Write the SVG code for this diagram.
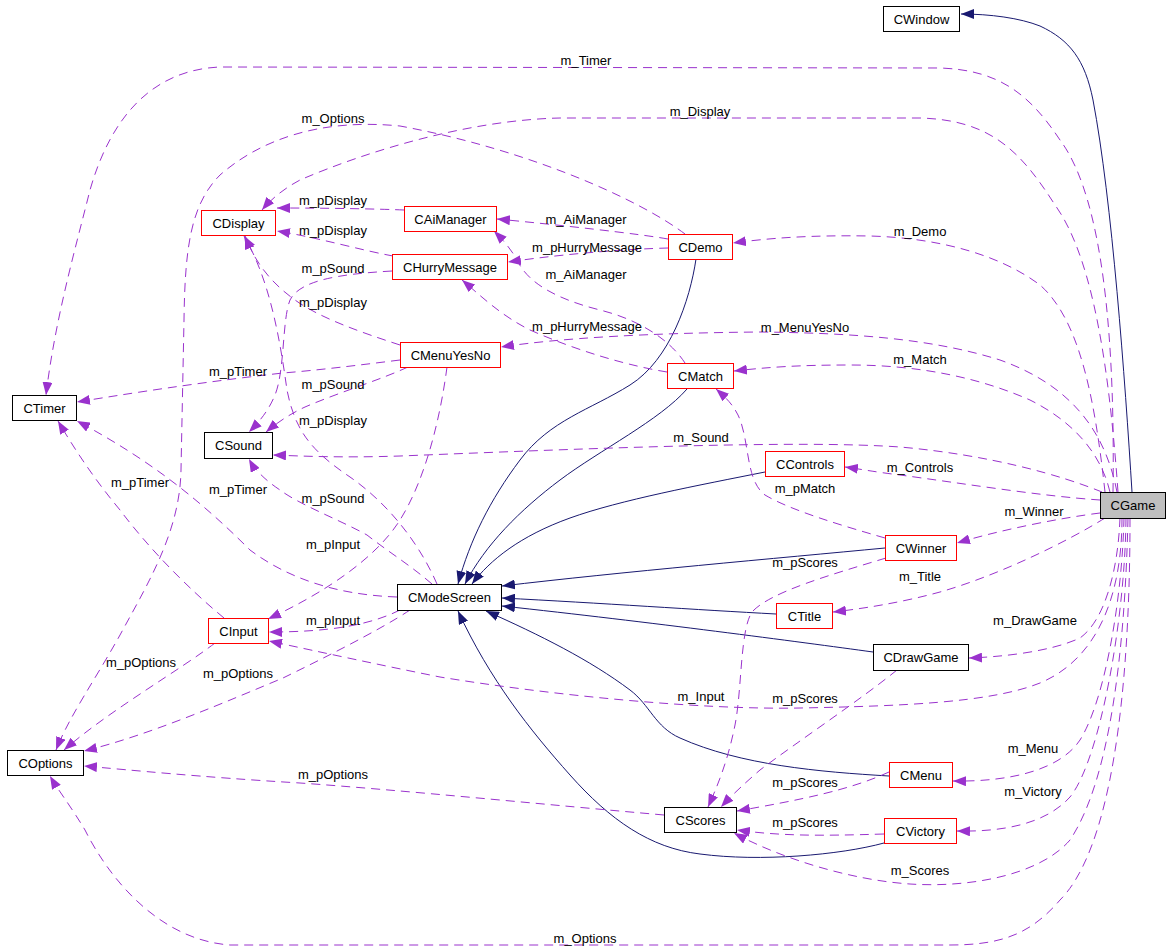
<svg xmlns="http://www.w3.org/2000/svg" width="1171" height="951" viewBox="0 0 1171 951">
<style>
text{font-family:"Liberation Sans",Arial,sans-serif;font-size:13px;fill:#000}
.n text{text-anchor:middle}
.lbl{text-anchor:middle}
rect{stroke-width:1}
.blk{fill:#fff;stroke:#000}
.red{fill:#fff;stroke:#ff0000}
.gry{fill:#bfbfbf;stroke:#000}
.inh{fill:none;stroke:#191970;stroke-width:1;marker-end:url(#ab)}
.use{fill:none;stroke:#9a32cd;stroke-width:1;stroke-dasharray:9,6;marker-end:url(#ap)}
</style>
<defs>
<marker id="ab" markerUnits="userSpaceOnUse" markerWidth="13" markerHeight="10" refX="13" refY="5" orient="auto"><path d="M0,0 L13,5 L0,10 z" fill="#191970"/></marker>
<marker id="ap" markerUnits="userSpaceOnUse" markerWidth="13" markerHeight="10" refX="13" refY="5" orient="auto"><path d="M0,0 L13,5 L0,10 z" fill="#9a32cd"/></marker>
</defs>
<rect width="1171" height="951" fill="#fff"/>
<g id="connectors">
<path class="inh" d="M1132,492 C1125,380 1112,200 1093,100 C1085,60 1070,40 1040,26 C1020,18 990,14 961,14"/>
<path class="inh" d="M696,259 C690,300 670,360 630,385 C590,410 550,420 520,460 C490,500 470,540 458,584"/>
<path class="inh" d="M687,389 C660,420 600,450 560,480 C520,510 485,545 465,584"/>
<path class="inh" d="M765,472 C700,485 620,500 570,518 C520,536 490,560 472,584"/>
<path class="inh" d="M885,548 C780,558 620,572 502,586"/>
<path class="inh" d="M776,614 C700,610 600,603 502,598"/>
<path class="inh" d="M873,652 C800,642 650,622 502,606"/>
<path class="inh" d="M889,776 C820,772 740,765 680,738 C655,727 650,705 630,690 C590,660 540,635 486,611"/>
<path class="inh" d="M884,843 C840,855 760,862 700,854 C650,848 610,820 570,775 C530,730 490,680 458,611"/>
<path class="use" d="M1113,492 C1115,350 1105,200 1060,140 C1030,95 1000,70 940,68 L220,67 C150,70 110,120 90,190 C75,250 55,320 46,395"/>
<path class="use" d="M1118,492 C1110,380 1095,260 1055,205 C1020,150 990,120 920,118 L560,118 C470,120 370,150 300,180 C285,188 272,198 262,210"/>
<path class="use" d="M1105,492 C1095,400 1080,320 1040,285 C1000,255 940,238 870,236 C810,235 770,238 733,243"/>
<path class="use" d="M1117,492 C1105,430 1070,385 1000,360 C930,338 850,333 760,332 C650,333 560,338 501,347"/>
<path class="use" d="M1110,492 C1100,450 1070,420 1030,400 C980,378 920,365 850,365 C800,365 770,367 734,371"/>
<path class="use" d="M1102,492 C1060,475 990,455 900,447 C800,440 600,448 400,456 C340,458 300,456 273,455"/>
<path class="use" d="M1100,500 C1040,496 960,483 900,475 C875,472 860,469 845,467"/>
<path class="use" d="M1100,513 C1060,518 1000,530 957,543"/>
<path class="use" d="M1105,518 C1070,540 1000,575 940,592 C900,603 860,609 833,612"/>
<path class="use" d="M1120,518 C1118,570 1105,620 1080,638 C1050,652 1000,657 969,658"/>
<path class="use" d="M1122,518 C1122,600 1095,660 1040,683 C990,703 900,706 800,708 C700,710 550,695 440,677 C380,665 320,652 269,641"/>
<path class="use" d="M1124,518 C1122,600 1105,700 1080,740 C1060,770 1010,782 953,781"/>
<path class="use" d="M1126,518 C1125,620 1100,760 1070,797 C1045,825 1000,832 957,831"/>
<path class="use" d="M1128,518 C1125,650 1110,780 1070,840 C1040,875 970,888 910,884 C850,880 780,858 734,833"/>
<path class="use" d="M1130,518 C1130,700 1110,850 1060,900 C1030,935 1000,945 950,945 L230,945 C160,940 110,880 85,830 C70,805 58,790 50,776"/>
<path class="use" d="M668,239 C640,234 560,225 497,219"/>
<path class="use" d="M668,248 C630,249 570,253 508,262"/>
<path class="use" d="M685,234 C640,200 530,150 400,126 C320,118 260,140 220,175 C190,205 185,250 184,320 L181,470 C180,530 150,580 120,635 C95,680 70,715 56,750"/>
<path class="use" d="M404,210 C380,209 330,208 277,208"/>
<path class="use" d="M393,256 C360,250 320,238 277,231"/>
<path class="use" d="M392,271 C340,274 300,280 290,300 C282,320 285,370 275,395 C268,412 258,423 249,432"/>
<path class="use" d="M400,345 C360,332 320,318 295,300 C270,282 255,262 245,236"/>
<path class="use" d="M400,360 C360,365 320,370 283,373 C220,380 150,390 77,402"/>
<path class="use" d="M408,367 C380,380 340,392 305,407 C290,414 278,422 266,432"/>
<path class="use" d="M447,367 C440,420 425,480 400,520 C375,560 320,595 268,619"/>
<path class="use" d="M685,363 C670,340 640,320 600,310 C560,300 530,285 518,262 C512,250 503,240 494,231"/>
<path class="use" d="M667,372 C630,366 580,352 530,330 C500,315 480,295 462,280"/>
<path class="use" d="M437,584 C420,545 390,505 350,477 C310,450 295,430 287,390 C280,340 270,280 244,236"/>
<path class="use" d="M432,584 C410,565 390,553 367,535 C340,520 300,505 280,490 C265,480 255,470 249,459"/>
<path class="use" d="M397,597 C340,595 290,580 250,550 C200,500 150,460 77,421"/>
<path class="use" d="M400,610 C370,625 330,632 269,632"/>
<path class="use" d="M410,610 C380,630 320,660 283,678 C230,700 150,735 84,751"/>
<path class="use" d="M224,618 C190,590 150,550 120,510 C95,480 75,450 58,421"/>
<path class="use" d="M215,643 C180,670 110,710 64,750"/>
<path class="use" d="M885,538 C840,525 790,510 765,495 C745,480 750,440 738,415 C732,403 724,396 716,389"/>
<path class="use" d="M886,558 C830,575 770,592 752,612 C740,630 742,690 735,725 C728,760 718,785 708,807"/>
<path class="use" d="M897,670 C860,700 800,740 760,770 C745,783 732,795 721,807"/>
<path class="use" d="M889,772 C850,790 800,800 737,811"/>
<path class="use" d="M884,834 C820,836 780,836 737,830"/>
<path class="use" d="M664,815 C550,805 400,790 300,783 C200,777 130,770 84,766"/>
<text class="lbl" x="586" y="65">m_Timer</text>
<text class="lbl" x="333" y="123">m_Options</text>
<text class="lbl" x="700" y="116">m_Display</text>
<text class="lbl" x="333" y="205">m_pDisplay</text>
<text class="lbl" x="333" y="235">m_pDisplay</text>
<text class="lbl" x="333" y="273">m_pSound</text>
<text class="lbl" x="333" y="307">m_pDisplay</text>
<text class="lbl" x="586" y="224">m_AiManager</text>
<text class="lbl" x="587" y="252">m_pHurryMessage</text>
<text class="lbl" x="586" y="279">m_AiManager</text>
<text class="lbl" x="920" y="236">m_Demo</text>
<text class="lbl" x="587" y="331">m_pHurryMessage</text>
<text class="lbl" x="805" y="332">m_MenuYesNo</text>
<text class="lbl" x="920" y="364">m_Match</text>
<text class="lbl" x="238" y="376">m_pTimer</text>
<text class="lbl" x="333" y="389">m_pSound</text>
<text class="lbl" x="333" y="425">m_pDisplay</text>
<text class="lbl" x="701" y="442">m_Sound</text>
<text class="lbl" x="920" y="472">m_Controls</text>
<text class="lbl" x="140" y="487">m_pTimer</text>
<text class="lbl" x="805" y="493">m_pMatch</text>
<text class="lbl" x="238" y="494">m_pTimer</text>
<text class="lbl" x="333" y="503">m_pSound</text>
<text class="lbl" x="1034" y="516">m_Winner</text>
<text class="lbl" x="333" y="549">m_pInput</text>
<text class="lbl" x="805" y="567">m_pScores</text>
<text class="lbl" x="920" y="581">m_Title</text>
<text class="lbl" x="1035" y="625">m_DrawGame</text>
<text class="lbl" x="333" y="625">m_pInput</text>
<text class="lbl" x="141" y="667">m_pOptions</text>
<text class="lbl" x="238" y="678">m_pOptions</text>
<text class="lbl" x="701" y="701">m_Input</text>
<text class="lbl" x="805" y="703">m_pScores</text>
<text class="lbl" x="1033" y="753">m_Menu</text>
<text class="lbl" x="333" y="779">m_pOptions</text>
<text class="lbl" x="805" y="787">m_pScores</text>
<text class="lbl" x="1033" y="796">m_Victory</text>
<text class="lbl" x="805" y="827">m_pScores</text>
<text class="lbl" x="920" y="875">m_Scores</text>
<text class="lbl" x="585" y="943">m_Options</text>
</g>
<g id="CWindow" class="n"><rect class="blk" x="883.5" y="6.5" width="76" height="25"/><text x="921.5" y="24">CWindow</text></g>
<g id="CGame" class="n"><rect class="gry" x="1100.5" y="492.5" width="65" height="26"/><text x="1133" y="510">CGame</text></g>
<g id="CDisplay" class="n"><rect class="red" x="201.5" y="210.5" width="74" height="25"/><text x="238.5" y="228">CDisplay</text></g>
<g id="CAiManager" class="n"><rect class="red" x="404.5" y="206.5" width="92" height="25"/><text x="450.5" y="224">CAiManager</text></g>
<g id="CDemo" class="n"><rect class="red" x="668.5" y="234.5" width="64" height="25"/><text x="700.5" y="252">CDemo</text></g>
<g id="CHurryMessage" class="n"><rect class="red" x="392.5" y="254.5" width="115" height="25"/><text x="450" y="272">CHurryMessage</text></g>
<g id="CMenuYesNo" class="n"><rect class="red" x="400.5" y="342.5" width="100" height="25"/><text x="450.5" y="360">CMenuYesNo</text></g>
<g id="CMatch" class="n"><rect class="red" x="667.5" y="363.5" width="66" height="25"/><text x="700.5" y="381">CMatch</text></g>
<g id="CModeScreen" class="n"><rect class="blk" x="397.5" y="584.5" width="104" height="26"/><text x="449.5" y="602">CModeScreen</text></g>
<g id="CControls" class="n"><rect class="red" x="765.5" y="451.5" width="79" height="25"/><text x="805" y="469">CControls</text></g>
<g id="CWinner" class="n"><rect class="red" x="885.5" y="535.5" width="71" height="25"/><text x="921" y="553">CWinner</text></g>
<g id="CTitle" class="n"><rect class="red" x="776.5" y="603.5" width="56" height="25"/><text x="804.5" y="621">CTitle</text></g>
<g id="CTimer" class="n"><rect class="blk" x="12.5" y="395.5" width="64" height="25"/><text x="44.5" y="413">CTimer</text></g>
<g id="CSound" class="n"><rect class="blk" x="204.5" y="432.5" width="68" height="26"/><text x="238.5" y="450">CSound</text></g>
<g id="CInput" class="n"><rect class="red" x="208.5" y="618.5" width="60" height="25"/><text x="238.5" y="636">CInput</text></g>
<g id="COptions" class="n"><rect class="blk" x="7.5" y="750.5" width="76" height="25"/><text x="45.5" y="768">COptions</text></g>
<g id="CScores" class="n"><rect class="blk" x="664.5" y="807.5" width="72" height="25"/><text x="700.5" y="825">CScores</text></g>
<g id="CDrawGame" class="n"><rect class="blk" x="873.5" y="644.5" width="95" height="26"/><text x="921" y="662">CDrawGame</text></g>
<g id="CMenu" class="n"><rect class="red" x="889.5" y="762.5" width="63" height="25"/><text x="921" y="780">CMenu</text></g>
<g id="CVictory" class="n"><rect class="red" x="884.5" y="818.5" width="72" height="25"/><text x="920.5" y="836">CVictory</text></g>
</svg>
